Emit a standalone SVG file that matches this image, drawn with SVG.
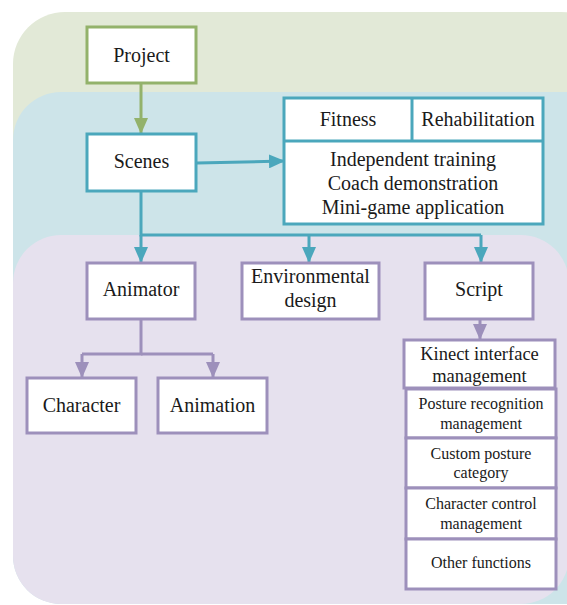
<svg xmlns="http://www.w3.org/2000/svg" width="567" height="605" viewBox="0 0 567 605">
  <style>
    .box { fill: #ffffff; stroke-width: 3; }
    .g { stroke: #93b26b; }
    .b { stroke: #4ba7bc; }
    .p { stroke: #9d90bb; }
    text { font-family: "Liberation Serif", "Times New Roman", serif; fill: #1a1a1a; text-anchor: middle; }
    .lg { font-size: 20px; }
    .md { font-size: 18.5px; }
    .sm { font-size: 16px; }
    .ln { fill: none; stroke-width: 3; }
  </style>
  <defs>
    <marker id="ahG" markerUnits="userSpaceOnUse" markerWidth="16" markerHeight="14" refX="15" refY="7" orient="auto">
      <path d="M0,0 L16,7 L0,14 Z" fill="#93b26b"/>
    </marker>
    <marker id="ahB" markerUnits="userSpaceOnUse" markerWidth="16" markerHeight="14" refX="15" refY="7" orient="auto">
      <path d="M0,0 L16,7 L0,14 Z" fill="#4ba7bc"/>
    </marker>
    <marker id="ahP" markerUnits="userSpaceOnUse" markerWidth="16" markerHeight="14" refX="15" refY="7" orient="auto">
      <path d="M0,0 L16,7 L0,14 Z" fill="#9d90bb"/>
    </marker>
  </defs>

  <!-- layered background bands -->
  <rect x="13" y="12" width="600" height="592" rx="52" fill="#e2e9d7"/>
  <rect x="13" y="92" width="600" height="512" rx="48" fill="#cde4e9"/>
  <rect x="13" y="235" width="556" height="369" rx="48" fill="#e6e1ee"/>

  <!-- connectors -->
  <g id="connectors">
    <line class="ln g" x1="141" y1="84" x2="141" y2="133" marker-end="url(#ahG)"/>
    <line class="ln b" x1="197" y1="163" x2="284" y2="161" marker-end="url(#ahB)"/>
    <polyline class="ln b" points="141,191 141,235 481,235"/>
    <line class="ln b" x1="141" y1="235" x2="141" y2="262" marker-end="url(#ahB)"/>
    <line class="ln b" x1="309" y1="235" x2="309" y2="262" marker-end="url(#ahB)"/>
    <line class="ln b" x1="481" y1="235" x2="481" y2="262" marker-end="url(#ahB)"/>
    <line class="ln p" x1="480" y1="320" x2="480" y2="339" marker-end="url(#ahP)"/>
    <polyline class="ln p" points="141,320 141,354 82,354"/>
    <line class="ln p" x1="141" y1="354" x2="213" y2="354"/>
    <line class="ln p" x1="82" y1="354" x2="82" y2="377" marker-end="url(#ahP)"/>
    <line class="ln p" x1="213" y1="354" x2="213" y2="377" marker-end="url(#ahP)"/>
  </g>

  <g id="project">
    <rect class="box g" x="87" y="27" width="109" height="56"/>
    <text class="lg" x="141.5" y="62">Project</text>
  </g>

  <g id="scenes">
    <rect class="box b" x="87" y="134" width="109" height="57"/>
    <text class="lg" x="141.5" y="168">Scenes</text>
  </g>

  <g id="scene-types">
    <rect class="box b" x="284" y="98" width="259" height="126"/>
    <line class="b" stroke-width="3" x1="284" y1="141" x2="543" y2="141"/>
    <line class="b" stroke-width="3" x1="412" y1="98" x2="412" y2="141"/>
    <text class="lg" x="348" y="126">Fitness</text>
    <text class="lg" x="478" y="126">Rehabilitation</text>
    <text class="lg" x="413" y="166">Independent training</text>
    <text class="lg" x="413" y="190">Coach demonstration</text>
    <text class="lg" x="413" y="214">Mini-game application</text>
  </g>

  <g id="animator">
    <rect class="box p" x="87" y="263" width="108" height="56"/>
    <text class="lg" x="141" y="296">Animator</text>
  </g>

  <g id="environmental-design">
    <rect class="box p" x="242" y="263" width="137" height="56"/>
    <text class="lg" x="310.5" y="283">Environmental</text>
    <text class="lg" x="310.5" y="307">design</text>
  </g>

  <g id="script">
    <rect class="box p" x="425" y="263" width="108" height="56"/>
    <text class="lg" x="479" y="296">Script</text>
  </g>

  <g id="character">
    <rect class="box p" x="27" y="378" width="109" height="55"/>
    <text class="lg" x="81.5" y="412">Character</text>
  </g>

  <g id="animation">
    <rect class="box p" x="158" y="378" width="109" height="55"/>
    <text class="lg" x="212.5" y="412">Animation</text>
  </g>

  <g id="kinect-interface">
    <rect class="box p" x="404" y="340" width="151" height="48"/>
    <text class="md" x="479.5" y="360">Kinect interface</text>
    <text class="md" x="479.5" y="382">management</text>
  </g>

  <g id="posture-recognition">
    <rect class="box p" x="406" y="389" width="150" height="49"/>
    <text class="sm" x="481" y="409">Posture recognition</text>
    <text class="sm" x="481" y="429">management</text>
  </g>

  <g id="custom-posture">
    <rect class="box p" x="406" y="438" width="150" height="50"/>
    <text class="sm" x="481" y="459">Custom posture</text>
    <text class="sm" x="481" y="478">category</text>
  </g>

  <g id="character-control">
    <rect class="box p" x="406" y="488" width="150" height="51"/>
    <text class="sm" x="481" y="509">Character control</text>
    <text class="sm" x="481" y="529">management</text>
  </g>

  <g id="other-functions">
    <rect class="box p" x="406" y="539" width="150" height="50"/>
    <text class="sm" x="481" y="568">Other functions</text>
  </g>
</svg>
